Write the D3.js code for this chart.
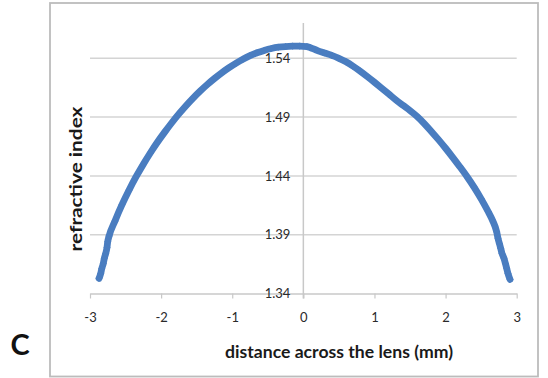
<!DOCTYPE html>
<html>
<head>
<meta charset="utf-8">
<script src="https://cdn.jsdelivr.net/npm/d3@7"></script>
<style>
  html, body { margin: 0; padding: 0; background: #ffffff; }
  svg { display: block; }
  text { font-family: Lato, "Open Sans", "Liberation Sans", sans-serif; }
</style>
</head>
<body>
<svg id="chart" width="548" height="378"></svg>
<script>
// Refractive index profile across the lens (mm from centre)
const distance = [
  -2.873, -2.849, -2.835, -2.813, -2.799, -2.779, -2.761, -2.751, -2.732,
  -2.65, -2.55, -2.45, -2.35, -2.25, -2.15, -2.05, -1.95, -1.85, -1.75,
  -1.65, -1.55, -1.45, -1.35, -1.25, -1.15, -1.05, -0.95, -0.85, -0.75,
  -0.65, -0.55, -0.45, -0.35, -0.25, -0.15, -0.05,
  0.05, 0.10, 0.20, 0.30, 0.40, 0.50, 0.60, 0.70, 0.80, 0.90,
  1.00, 1.10, 1.20, 1.30, 1.40, 1.50, 1.60, 1.70, 1.80, 1.90,
  2.00, 2.10, 2.20, 2.30, 2.40, 2.50, 2.60, 2.66, 2.718,
  2.737, 2.756, 2.775, 2.793, 2.821, 2.841, 2.859, 2.877, 2.906
];
const refractiveIndex = [
  1.3529, 1.3571, 1.3610, 1.3656, 1.3698, 1.3741, 1.3792, 1.3840, 1.3888,
  1.4015, 1.4155, 1.4280, 1.4395, 1.4500, 1.4597, 1.4688, 1.4772, 1.4852, 1.4927,
  1.4997, 1.5062, 1.5122, 1.5177, 1.5228, 1.5275, 1.5318, 1.5357, 1.5392, 1.5422,
  1.5447, 1.5467, 1.5483, 1.5494, 1.5500, 1.5503, 1.5504,
  1.5500, 1.5490, 1.5465, 1.5445, 1.5425, 1.5400, 1.5370, 1.5332, 1.5290, 1.5244,
  1.5196, 1.5147, 1.5097, 1.5046, 1.5000, 1.4955, 1.4905, 1.4845, 1.4778, 1.4708,
  1.4635, 1.4558, 1.4478, 1.4395, 1.4305, 1.4205, 1.4095, 1.4022, 1.3925,
  1.3869, 1.3826, 1.3784, 1.3741, 1.3699, 1.3656, 1.3614, 1.3571, 1.3520
];
const xTicks = [-3, -2, -1, 0, 1, 2, 3];
const yTicks = [1.34, 1.39, 1.44, 1.49, 1.54];
const xTitle = "distance across the lens (mm)";
const yTitle = "refractive index";
const panelLabel = "C";

const svg = d3.select("#chart");
const plot = { left: 90, right: 516.7, top: 23, bottom: 293.5 };

const x = d3.scaleLinear().domain([-3, 3]).range([plot.left, plot.right]);
const y = d3.scaleLinear().domain([1.34, 1.57]).range([plot.bottom, plot.top]);

// outer chart frame
svg.append("rect")
  .attr("x", 50).attr("y", 3)
  .attr("width", 488).attr("height", 373.5)
  .attr("fill", "#fff")
  .attr("stroke", "#bcbcbc")
  .attr("stroke-width", 1.8);

// horizontal gridlines
svg.append("g")
  .selectAll("line")
  .data(yTicks.slice(1))
  .join("line")
  .attr("x1", plot.left).attr("x2", plot.right)
  .attr("y1", d => y(d)).attr("y2", d => y(d))
  .attr("stroke", "#d4d4d4")
  .attr("stroke-width", 1.5);

// x axis along the bottom, ticks pointing down
const xAxis = svg.append("g")
  .attr("transform", `translate(0,${y(1.34)})`)
  .call(d3.axisBottom(x).tickValues(xTicks).tickSizeInner(5).tickSizeOuter(0)
    .tickFormat(d => d < 0 ? "-" + Math.abs(d) : String(d)));
xAxis.select(".domain").attr("stroke", "#c8c8c8").attr("stroke-width", 1.5);
xAxis.selectAll(".tick line").attr("stroke", "#c8c8c8").attr("stroke-width", 1.2);
xAxis.selectAll(".tick text")
  .attr("y", 24)
  .attr("dy", "0.35em")
  .attr("fill", "#2a2a2a")
  .style("font-size", "13px")
  .style("font-family", "Lato, 'Open Sans', sans-serif");

// y axis through x = 0, labels to its left
const yAxis = svg.append("g")
  .attr("transform", `translate(${x(0)},0)`)
  .call(d3.axisLeft(y).tickValues(yTicks).tickSize(0).tickPadding(13)
    .tickFormat(d3.format(".2f")));
yAxis.select(".domain")
  .attr("d", `M0,${plot.top}V${plot.bottom + 5}`)
  .attr("stroke", "#c8c8c8").attr("stroke-width", 1.5);
yAxis.selectAll(".tick text")
  .attr("fill", "#2a2a2a")
  .style("font-size", "13px")
  .style("font-family", "Lato, 'Open Sans', sans-serif");

// profile curve: thick line plus diamond markers at every sample
const points = distance.map((d, i) => [d, refractiveIndex[i]]);
const blue = "#4a7dc0";

svg.append("path")
  .datum(points)
  .attr("fill", "none")
  .attr("stroke", blue)
  .attr("stroke-width", 6.8)
  .attr("stroke-linejoin", "round")
  .attr("stroke-linecap", "round")
  .attr("d", d3.line().x(d => x(d[0])).y(d => y(d[1])).curve(d3.curveMonotoneX));

const diamond = d3.symbol().type(d3.symbolDiamond2 || d3.symbolDiamond).size(33);
svg.append("g")
  .selectAll("path")
  .data(points)
  .join("path")
  .attr("transform", d => `translate(${x(d[0])},${y(d[1])})`)
  .attr("d", diamond)
  .attr("fill", blue);

// axis titles
svg.append("text")
  .attr("x", 339).attr("y", 358)
  .attr("text-anchor", "middle")
  .attr("textLength", 228)
  .attr("lengthAdjust", "spacingAndGlyphs")
  .attr("font-weight", "bold")
  .attr("font-size", 17)
  .attr("fill", "#1a1a1a")
  .text(xTitle);

svg.append("text")
  .attr("transform", "translate(82,179) rotate(-90)")
  .attr("text-anchor", "middle")
  .attr("textLength", 145)
  .attr("lengthAdjust", "spacingAndGlyphs")
  .attr("font-weight", "bold")
  .attr("font-size", 17)
  .attr("fill", "#1a1a1a")
  .text(yTitle);

// panel letter
svg.append("text")
  .attr("x", 20).attr("y", 355)
  .attr("text-anchor", "middle")
  .attr("font-family", "'Open Sans', Lato, sans-serif")
  .attr("font-weight", "bold")
  .attr("font-size", 29)
  .attr("fill", "#111")
  .text(panelLabel);
</script>
</body>
</html>
